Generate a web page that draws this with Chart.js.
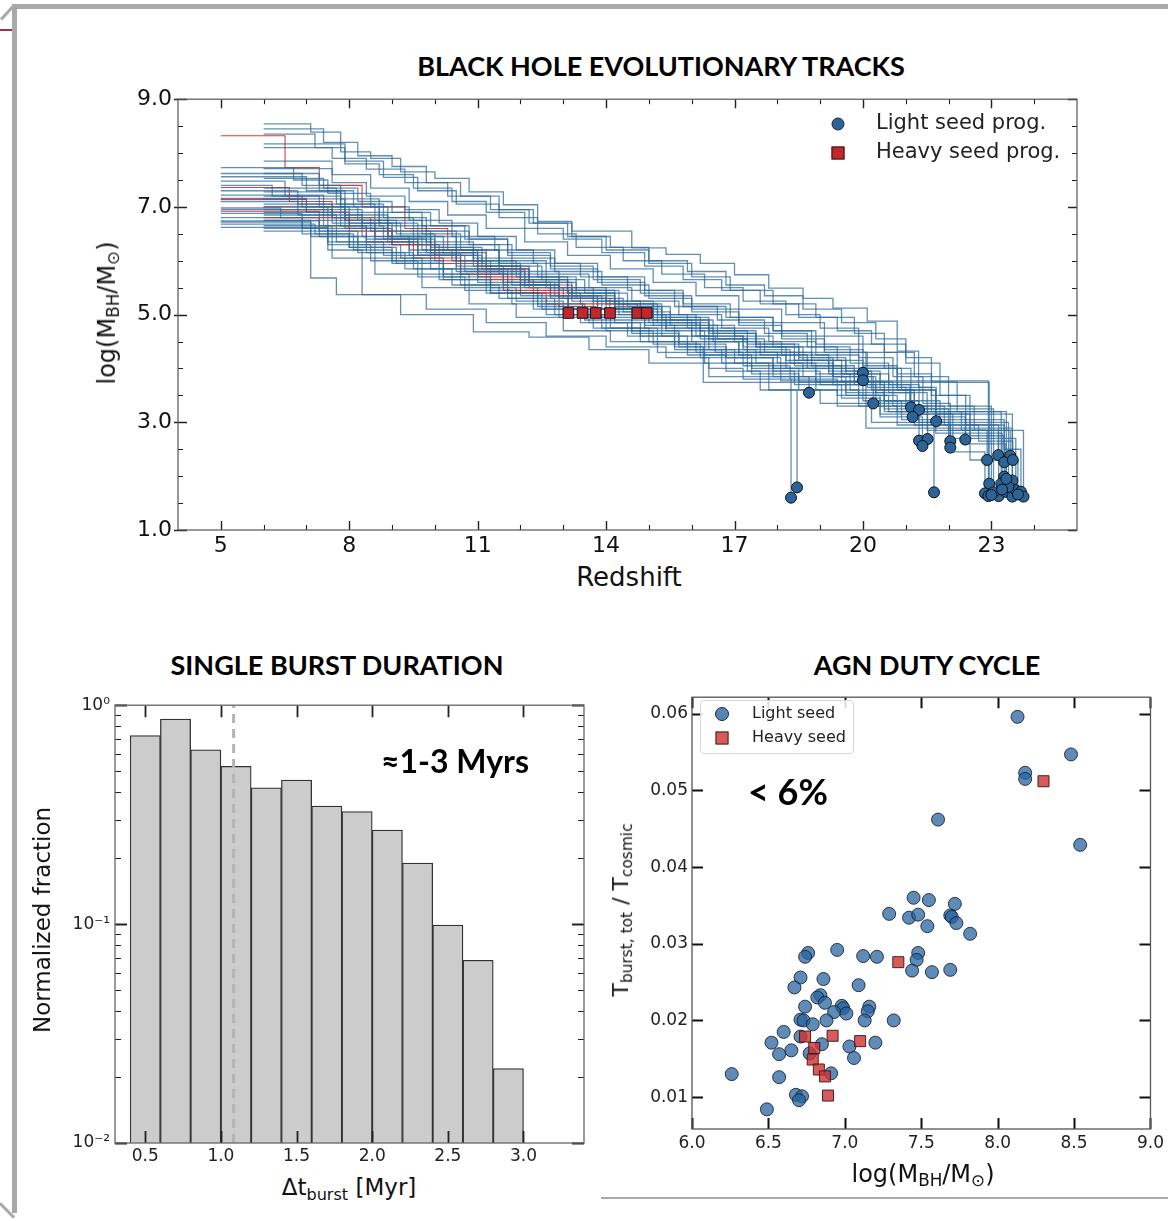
<!DOCTYPE html>
<html>
<head>
<meta charset="utf-8">
<script src="https://cdn.jsdelivr.net/npm/chart.js@4.4.0/dist/chart.umd.min.js"></script>
<style>
  body { margin: 0; width: 1168px; height: 1221px; position: relative; background: #fff; overflow: hidden; font-family: 'DejaVu Sans', sans-serif; }
  .abs { position: absolute; }
  .bar { position: absolute; background: #a9a9a9; }
  .lbl { position: absolute; transform: translate(-50%, -50%); white-space: nowrap; color: #111; }
  .rot { transform: translate(-50%, -50%) rotate(-90deg); }
  .ttl { position: absolute; transform: translate(-50%, -50%); white-space: nowrap; font-family: Lato, sans-serif; font-weight: 700; font-size: 27px; color: #000; }
  sub { font-size: 0.7em; vertical-align: -0.25em; }
  .dot { position: absolute; border-radius: 50%; transform: translate(-50%, -50%); }
  .sq { position: absolute; transform: translate(-50%, -50%); }
</style>
</head>
<body>
<!-- slide frame -->
<div class="bar" style="left:12px; top:4px; width:1156px; height:5px;"></div>
<div class="bar" style="left:12px; top:4px; width:5px; height:1209px;"></div>
<div class="bar" style="left:601px; top:1197px; width:567px; height:2px;"></div>
<div class="abs" style="left:0; top:29px; width:12px; height:2px; background:#9e3347;"></div>
<div class="bar" style="left:-2px; top:11px; width:19px; height:3px; transform:rotate(-48deg);"></div>
<div class="bar" style="left:-3px; top:1209px; width:20px; height:3px; transform:rotate(45deg);"></div>

<div class="ttl" style="left:661px; top:65px;">BLACK HOLE EVOLUTIONARY TRACKS</div>
<div class="ttl" style="left:337px; top:664px;">SINGLE BURST DURATION</div>
<div class="ttl" style="left:927px; top:664px;">AGN DUTY CYCLE</div>

<div class="abs" style="left:100px; top:80px;"><canvas id="tracks" width="1000" height="480"></canvas></div>
<div class="abs" style="left:40px; top:690px;"><canvas id="burst" width="560" height="480"></canvas></div>
<div class="abs" style="left:620px; top:683px;"><canvas id="duty" width="548" height="480"></canvas></div>

<!-- axis titles -->
<div class="lbl rot" style="left:108px; top:313px; font-size:24px;">log(M<sub>BH</sub>/M<sub>⊙</sub>)</div>
<div class="lbl" style="left:629px; top:577px; font-size:26px;">Redshift</div>
<div class="lbl rot" style="left:42px; top:920px; font-size:23px;">Normalized fraction</div>
<div class="lbl" style="left:349px; top:1189px; font-size:23px;">Δt<sub>burst</sub> [Myr]</div>
<div class="lbl rot" style="left:622px; top:910px; font-size:22px;">T<sub>burst, tot</sub> / T<sub>cosmic</sub></div>
<div class="lbl" style="left:923px; top:1175px; font-size:24px;">log(M<sub>BH</sub>/M<sub>⊙</sub>)</div>

<!-- top legend -->
<div class="dot" style="left:838px; top:124px; width:11px; height:11px; background:#2b6499; border:1px solid #1a2a3a;"></div>
<div class="sq" style="left:838px; top:153px; width:11px; height:11px; background:#c0282d; border:1px solid #3a1010;"></div>
<div class="abs" style="left:876px; top:110px; font-size:21px; color:#222;">Light seed prog.</div>
<div class="abs" style="left:876px; top:139px; font-size:21px; color:#222;">Heavy seed prog.</div>

<!-- duty legend -->
<div class="abs" style="left:700px; top:700px; width:152px; height:52px; border:1px solid #d6d6d6; border-radius:4px; background:rgba(255,255,255,0.85);"></div>
<div class="dot" style="left:722px; top:714px; width:12px; height:12px; background:rgba(40,100,160,0.78); border:1px solid #223;"></div>
<div class="sq" style="left:722px; top:738px; width:11px; height:11px; background:rgba(205,50,50,0.8); border:1px solid #422;"></div>
<div class="abs" style="left:752px; top:703px; font-size:16px; color:#222;">Light seed</div>
<div class="abs" style="left:752px; top:727px; font-size:16px; color:#222;">Heavy seed</div>

<div class="ttl" style="left:455px; top:760px; font-size:32px;">≈1-3 Myrs</div>
<div class="ttl" style="left:788px; top:791px; font-size:36px;">&lt; 6%</div>

<script>
// ---- evolutionary tracks: [redshift, logM] steps, low z -> seed ----
const lightTracks = [
  [[5,6.68],[6.3,6.68],[7.2,6.5],[8.1,6.2],[9.0,6.0],[10.2,5.7],[11.3,5.4],[12.5,5.1],[13.6,4.85],[14.8,4.6],[15.9,4.35],[17.0,4.1],[17.9,3.85],[18.74,3.55]],
  [[6,7.71],[6.8,7.71],[7.6,7.45],[8.4,7.2],[9.3,6.95],[10.1,6.7],[11.0,6.45],[11.9,6.2],[12.8,5.95],[13.8,5.7],[14.9,5.45],[15.8,5.2],[16.9,4.95],[17.9,4.7],[18.8,4.4],[19.4,4.15],[20.0,3.92]],
  [[5,7.48],[5.7,7.48],[6.5,7.2],[7.3,7.0],[8.2,6.75],[9.1,6.5],[10.0,6.25],[11.1,5.95],[12.0,5.7],[13.1,5.45],[14.2,5.2],[15.3,4.95],[16.4,4.7],[17.5,4.45],[18.5,4.2],[19.3,4.0],[20.0,3.78]],
  [[6,7.2],[6.9,7.2],[7.8,6.9],[8.7,6.65],[9.8,6.35],[10.9,6.05],[11.8,5.8],[12.9,5.5],[14.0,5.25],[15.1,4.95],[16.2,4.7],[17.3,4.45],[18.4,4.15],[19.3,3.85],[20.24,3.35]],
  [[6,8.17],[7.0,8.17],[7.9,7.85],[8.8,7.55],[9.6,7.3],[10.5,7.05],[11.5,6.8],[12.4,6.5],[13.3,6.25],[14.4,6.0],[15.3,5.75],[16.3,5.5],[17.2,5.25],[18.2,5.0],[19.0,4.75],[19.9,4.45],[20.5,4.0],[21.12,3.28]],
  [[5,7.73],[5.9,7.73],[6.7,7.5],[7.5,7.25],[8.5,7.0],[9.4,6.75],[10.4,6.45],[11.4,6.2],[12.3,5.95],[13.4,5.7],[14.5,5.45],[15.6,5.15],[16.6,4.9],[17.7,4.65],[18.7,4.4],[19.7,4.1],[20.6,3.7],[21.31,3.23]],
  [[5,7.16],[6.1,7.16],[7.0,6.9],[7.9,6.6],[8.9,6.35],[9.9,6.1],[11.0,5.8],[12.1,5.5],[13.2,5.25],[14.3,5.0],[15.4,4.75],[16.5,4.5],[17.6,4.25],[18.7,4.0],[19.8,3.7],[20.5,3.4],[21.16,3.10]],
  [[6,8.54],[6.6,8.54],[7.1,8.39],[7.8,8.02],[8.5,7.9],[9.2,7.65],[10.0,7.53],[10.8,7.28],[11.6,7.04],[12.4,6.73],[13.2,6.55],[14.6,6.24],[15.4,6.12],[16.2,5.95],[17.0,5.74],[17.8,5.49],[18.6,5.30],[19.3,5.12],[20.1,4.88],[20.8,4.32],[21.3,3.65],[21.71,3.02]],
  [[5,6.88],[6.0,6.88],[6.9,6.6],[7.7,6.35],[8.8,6.1],[9.9,5.85],[11.0,5.6],[12.0,5.35],[13.1,5.1],[14.2,4.85],[15.3,4.6],[16.4,4.35],[17.5,4.1],[18.6,3.85],[19.6,3.55],[20.5,3.2],[21.31,2.66]],
  [[6,7.0],[7.1,7.0],[8.0,6.7],[9.0,6.4],[10.0,6.1],[11.1,5.85],[12.2,5.6],[13.3,5.3],[14.4,5.05],[15.5,4.8],[16.6,4.55],[17.7,4.3],[18.8,4.05],[19.8,3.75],[20.7,3.3],[21.51,2.69]],
  [[5,6.74],[6.2,6.74],[7.3,6.45],[8.4,6.15],[9.5,5.85],[10.6,5.55],[11.7,5.3],[12.8,5.0],[13.9,4.75],[15.0,4.5],[16.1,4.3],[17.2,4.05],[18.3,3.8],[19.4,3.5],[20.4,3.1],[21.39,2.56]],
  [[6,7.53],[6.7,7.53],[7.4,7.35],[8.2,7.1],[9.0,6.9],[9.9,6.65],[10.8,6.4],[11.7,6.15],[12.7,5.9],[13.7,5.65],[14.8,5.4],[15.8,5.15],[16.8,4.95],[17.9,4.7],[18.9,4.45],[19.9,4.2],[20.7,3.85],[21.4,3.35],[22.04,2.65]],
  [[5,7.10],[5.8,7.10],[6.8,6.85],[7.7,6.6],[8.6,6.35],[9.6,6.1],[10.7,5.8],[11.8,5.55],[12.9,5.3],[14.0,5.05],[15.1,4.8],[16.2,4.55],[17.3,4.3],[18.4,4.05],[19.5,3.75],[20.5,3.4],[21.3,3.0],[22.04,2.53]],
  [[5,7.56],[6.2,7.56],[7.0,7.3],[7.9,7.05],[8.8,6.8],[9.8,6.55],[10.8,6.3],[11.8,6.05],[12.8,5.8],[13.9,5.55],[15.0,5.3],[16.0,5.05],[17.1,4.8],[18.1,4.55],[19.1,4.3],[20.1,4.0],[20.9,3.6],[21.7,3.1],[22.39,2.68]],
  [[6,8.10],[6.9,8.10],[7.6,7.9],[8.4,7.7],[9.3,7.45],[10.3,7.2],[11.3,6.95],[12.2,6.7],[13.1,6.45],[14.0,6.2],[15.0,5.95],[16.0,5.7],[16.9,5.45],[17.9,5.2],[18.9,4.95],[19.8,4.65],[20.5,4.3],[21.2,3.85],[22.0,3.3],[22.6,2.85],[23.16,2.39]],
  [[6,6.9],[6.9,6.9],[7.8,6.65],[8.8,6.4],[9.8,6.15],[10.9,5.9],[12.0,5.65],[13.1,5.4],[14.2,5.15],[15.3,4.9],[16.4,4.65],[17.5,4.4],[18.6,4.15],[19.6,3.9],[20.6,3.55],[21.5,3.2],[22.3,2.85],[23.44,2.38]],
  [[6,7.35],[6.8,7.35],[7.7,7.05],[8.6,6.8],[9.5,6.55],[10.5,6.3],[11.5,6.0],[12.6,5.75],[13.6,5.5],[14.6,5.25],[15.7,5.0],[16.7,4.75],[17.8,4.5],[18.9,4.25],[19.9,4.0],[20.8,3.6],[21.7,3.15],[22.5,2.75],[23.30,2.26]],
  [[5,6.80],[5.9,6.80],[6.9,6.5],[8.0,6.25],[9.1,5.95],[10.2,5.65],[11.3,5.4],[12.4,5.15],[13.5,4.9],[14.6,4.65],[15.7,4.4],[16.8,4.2],[17.9,3.95],[19.0,3.7],[20.0,3.4],[20.9,3.05],[23.30,1.99]],
  [[6,6.75],[7.2,6.75],[8.3,6.45],[9.4,6.2],[10.5,5.9],[11.6,5.6],[12.7,5.35],[13.8,5.1],[14.9,4.8],[15.6,4.4],[16.27,3.74],[22.95,1.86]],
  [[5,7.30],[6.0,7.30],[6.8,7.05],[7.6,6.8],[8.5,6.55],[9.5,6.3],[10.5,6.0],[11.5,5.75],[12.6,5.5],[13.7,5.25],[14.8,5.0],[15.9,4.75],[17.0,4.5],[18.1,4.25],[19.2,3.95],[20.2,3.6],[21.1,3.2],[23.23,1.86]],
  [[6,6.6],[6.6,6.6],[7.5,6.3],[8.5,6.0],[9.6,5.7],[10.7,5.45],[11.8,5.2],[12.9,4.95],[14.0,4.7],[15.1,4.45],[16.2,4.2],[17.3,3.95],[18.4,3.7],[19.5,3.45],[20.4,3.15],[23.49,1.92]],
  [[5,6.95],[6.4,6.95],[7.4,6.65],[8.4,6.4],[9.4,6.1],[10.5,5.8],[11.6,5.55],[12.7,5.3],[13.8,5.0],[14.9,4.75],[16.0,4.5],[17.1,4.25],[18.2,4.0],[19.3,3.7],[20.3,3.35],[21.2,2.95],[22.0,2.45],[22.85,1.68]],
  [[6,7.05],[7.0,7.05],[7.9,6.75],[8.9,6.45],[9.9,6.2],[11.0,5.9],[12.0,5.65],[13.1,5.4],[14.2,5.1],[15.3,4.85],[16.4,4.55],[17.3,4.2],[18.08,3.77],[22.93,1.63]],
  [[6,6.55],[7.0,6.55],[8.0,6.25],[9.0,5.95],[10.1,5.65],[11.2,5.4],[12.3,5.1],[13.4,4.85],[14.5,4.6],[15.6,4.35],[16.7,4.1],[17.8,3.85],[18.9,3.6],[19.9,3.3],[20.8,2.95],[23.17,1.63]],
  [[5,7.62],[6.1,7.62],[6.9,7.4],[7.8,7.15],[8.7,6.9],[9.7,6.65],[10.7,6.4],[11.7,6.1],[12.7,5.85],[13.8,5.6],[14.9,5.35],[16.0,5.1],[17.1,4.85],[18.1,4.6],[19.1,4.35],[20.0,4.05],[20.8,3.65],[21.6,3.2],[22.4,2.6],[23.34,1.71]],
  [[6,7.15],[6.9,7.15],[7.9,6.85],[8.9,6.55],[9.9,6.25],[10.9,6.0],[11.9,5.7],[12.9,5.45],[14.0,5.2],[15.1,4.9],[16.0,4.6],[16.55,4.3],[20.07,2.89],[23.49,1.62]],
  [[6,6.95],[6.7,6.95],[7.6,6.7],[8.6,6.4],[9.6,6.15],[10.6,5.85],[11.7,5.6],[12.8,5.35],[13.9,5.1],[15.0,4.85],[16.1,4.6],[17.2,4.35],[18.3,4.1],[19.3,3.85],[20.3,3.55],[21.2,3.15],[22.1,2.7],[23.57,1.74]],
  [[6,7.85],[6.8,7.85],[7.6,7.6],[8.5,7.35],[9.4,7.1],[10.3,6.85],[11.2,6.6],[12.1,6.35],[13.1,6.1],[14.1,5.85],[15.1,5.6],[16.1,5.35],[17.1,5.1],[18.1,4.85],[19.1,4.6],[20.0,4.3],[20.8,3.9],[21.6,3.5],[22.4,2.95],[23.3,2.5],[23.69,1.71]],
  [[5,6.62],[6.5,6.62],[7.5,6.35],[8.6,6.05],[9.7,5.75],[10.8,5.5],[11.9,5.25],[13.0,5.0],[14.1,4.75],[15.2,4.5],[16.3,4.25],[17.4,4.0],[18.5,3.75],[19.6,3.5],[20.6,3.2],[21.5,2.85],[23.75,1.62]],
  [[6,6.75],[6.48,6.75],[7.1,5.68],[7.7,5.37],[9.2,5.0],[10.9,4.68],[12.2,4.58],[13.6,4.35],[15.0,4.1],[16.4,3.85],[17.8,3.6],[19.0,3.35],[20.2,3.0],[21.66,1.70]],
  [[5,6.72],[6.0,6.72],[7.1,6.45],[8.2,6.15],[9.3,5.85],[10.4,5.55],[11.5,5.3],[12.6,5.0],[13.7,4.75],[14.8,4.5],[15.9,4.25],[16.8,3.95],[17.6,3.6],[18.46,1.79]],
  [[6,6.85],[6.6,6.85],[7.5,6.2],[8.3,5.37],[9.8,5.1],[11.2,4.85],[12.6,4.6],[14.0,4.4],[15.4,4.2],[16.4,4.0],[17.2,3.8],[18.32,1.60]],
  [[5,7.40],[5.6,7.40],[6.2,7.2],[6.9,7.0],[7.5,6.85],[8.3,6.6],[8.9,6.45],[9.7,6.2],[10.4,6.0],[11.3,5.75],[12.0,5.55],[12.9,5.3],[13.7,5.1],[14.6,4.9],[15.4,4.7],[16.3,4.5],[17.1,4.3],[18.0,4.1],[18.9,3.9],[19.7,3.6],[20.5,3.25],[23.05,1.70]],
  [[6,7.62],[6.6,7.62],[7.3,7.3],[8.1,7.0],[8.9,6.75],[9.7,6.5],[10.6,6.2],[11.5,5.95],[12.4,5.7],[13.3,5.45],[14.3,5.2],[15.2,5.0],[16.1,4.8],[17.0,4.6],[17.9,4.4],[18.8,4.2],[19.6,3.95],[20.4,3.7],[21.1,3.4],[21.8,3.0],[23.40,1.80]],
  [[5,6.98],[5.5,6.98],[6.4,6.8],[7.3,6.55],[8.2,6.3],[9.2,6.05],[10.2,5.75],[11.3,5.5],[12.4,5.2],[13.5,4.95],[14.6,4.7],[15.7,4.45],[16.8,4.2],[17.9,4.0],[18.9,3.75],[19.9,3.5],[20.8,3.2],[21.7,2.8],[22.5,2.3],[23.62,1.66]],
  [[6,8.35],[6.5,8.35],[7.2,8.1],[7.9,7.8],[8.7,7.6],[9.5,7.35],[10.4,7.1],[11.2,6.9],[12.1,6.6],[13.0,6.4],[13.9,6.15],[14.9,5.9],[15.8,5.65],[16.7,5.45],[17.6,5.2],[18.5,4.95],[19.4,4.7],[20.2,4.45],[21.0,4.1],[21.8,3.5],[22.5,2.8],[23.25,1.75]],
  [[6,7.28],[7.0,7.28],[7.8,7.0],[8.7,6.7],[9.6,6.45],[10.5,6.2],[11.5,5.9],[12.5,5.65],[13.5,5.4],[14.5,5.15],[15.5,4.9],[16.5,4.65],[17.5,4.4],[18.5,4.15],[19.5,3.9],[20.4,3.6],[21.2,3.25],[22.0,2.85],[22.90,2.30]],
  [[5,7.22],[6.5,7.22],[7.4,6.95],[8.3,6.7],[9.2,6.45],[10.2,6.15],[11.2,5.9],[12.2,5.6],[13.2,5.35],[14.2,5.1],[15.2,4.85],[16.2,4.6],[17.2,4.4],[18.2,4.15],[19.2,3.9],[20.1,3.65],[21.0,3.3],[21.9,2.95],[22.7,2.65],[23.50,2.30]],
  [[6,6.65],[6.9,6.65],[7.6,6.05],[8.6,5.75],[9.7,5.5],[10.8,5.2],[11.9,4.95],[13.0,4.7],[14.1,4.5],[15.2,4.3],[16.3,4.1],[17.4,3.9],[18.5,3.6],[19.4,3.3],[23.0,1.65]],
  [[6,8.45],[6.7,8.45],[7.4,8.2],[8.2,7.95],[9.0,7.75],[9.8,7.45],[10.6,7.2],[11.5,6.95],[12.3,6.7],[13.2,6.45],[14.1,6.25],[15.0,6.0],[15.9,5.8],[16.8,5.55],[17.7,5.35],[18.6,5.1],[19.5,4.85],[20.3,4.55],[21.0,4.2],[21.6,3.75],[22.2,3.2],[23.35,1.95]]
];
const heavyTracks = [
  [[5,8.32],[5.9,8.32],[6.5,7.73],[7.3,7.4],[8.3,7.0],[9.3,6.6],[10.3,6.2],[11.2,5.85],[12.2,5.5],[13.0,5.3],[14.09,5.03]],
  [[5,7.36],[5.7,7.36],[6.6,7.1],[7.6,6.8],[8.6,6.45],[9.6,6.1],[10.6,5.75],[11.6,5.45],[13.12,5.03]],
  [[5,6.92],[6.3,6.92],[7.3,6.65],[8.4,6.35],[9.5,6.05],[10.6,5.75],[11.7,5.4],[12.6,5.2],[13.45,5.03]],
  [[6,6.8],[7.0,6.8],[8.0,6.55],[9.0,6.3],[10.0,6.0],[11.0,5.7],[12.0,5.4],[12.9,5.15],[13.76,5.03]],
  [[5,7.14],[6.0,7.14],[7.0,6.9],[8.0,6.6],[9.0,6.3],[10.1,5.95],[11.2,5.65],[12.3,5.4],[13.4,5.2],[14.73,5.03]],
  [[6,7.0],[6.9,7.0],[7.9,6.75],[8.9,6.45],[9.9,6.15],[11.0,5.85],[12.1,5.55],[13.2,5.3],[14.2,5.12],[14.95,5.03]]
];
const zTicks = [5, 8, 11, 14, 17, 20, 23];
const zMinor = [6, 7, 9, 10, 12, 13, 15, 16, 18, 19, 21, 22, 24];
const massTicks = [1, 3, 5, 7, 9];
const massTickLabels = ['1.0', '3.0', '5.0', '7.0', '9.0'];
const massMinor = [1.5, 2, 2.5, 3.5, 4, 4.5, 5.5, 6, 6.5, 7.5, 8, 8.5];

// ---- single burst duration histogram ----
const burstBins = [0.5, 0.7, 0.9, 1.1, 1.3, 1.5, 1.7, 1.9, 2.1, 2.3, 2.5, 2.7, 2.9];
const burstFraction = [0.726, 0.865, 0.625, 0.526, 0.419, 0.455, 0.346, 0.327, 0.269, 0.190, 0.099, 0.0684, 0.0219];
const burstMedian = 1.084;
const durTicks = [0.5, 1.0, 1.5, 2.0, 2.5, 3.0];
const durTickLabels = ['0.5', '1.0', '1.5', '2.0', '2.5', '3.0'];
const fracTicks = [0.01, 0.1, 1];
const fracTickLabels = ['10⁻²', '10⁻¹', '10⁰'];
const fracMinor = [0.02, 0.03, 0.04, 0.05, 0.06, 0.07, 0.08, 0.09, 0.2, 0.3, 0.4, 0.5, 0.6, 0.7, 0.8, 0.9];

// ---- duty cycle scatter ----
const lightMass = [8.13, 8.48, 8.18, 8.18, 8.54, 7.61, 7.45, 7.55, 7.72, 7.29, 7.42, 7.48, 7.54, 7.69, 7.70, 7.73, 7.82, 7.48, 7.47, 7.44, 7.57, 7.69,
  6.95, 7.12, 7.21, 6.76, 6.74, 6.71, 6.67, 6.86, 7.09, 6.84, 6.82, 6.87, 6.74, 6.98, 6.99, 6.93, 7.01, 7.16, 7.15, 7.13, 7.32, 6.71, 6.73, 6.79,
  6.88, 6.60, 6.71, 6.52, 6.65, 6.57, 6.77, 6.85, 7.03, 7.06, 7.20, 6.57, 6.91, 6.26, 6.68, 6.72, 6.70, 6.49];
const lightDuty = [0.0596, 0.0547, 0.0523, 0.0515, 0.0429, 0.0462, 0.0360, 0.0357, 0.0352, 0.0339, 0.0334, 0.0338, 0.0323, 0.0337, 0.0335, 0.0327, 0.0313, 0.0288, 0.0279, 0.0265, 0.0263, 0.0266,
  0.0292, 0.0284, 0.0283, 0.0288, 0.0283, 0.0256, 0.0243, 0.0254, 0.0246, 0.0233, 0.0230, 0.0223, 0.0218, 0.0219, 0.0216, 0.0211, 0.0209, 0.0218, 0.0212, 0.0200, 0.0200, 0.0201, 0.0200, 0.0195,
  0.0200, 0.0185, 0.0179, 0.0171, 0.0161, 0.0156, 0.0157, 0.0169, 0.0166, 0.0151, 0.0171, 0.0126, 0.0131, 0.0130, 0.0103, 0.0101, 0.0096, 0.0084];
const heavyMass = [8.30, 7.35, 6.74, 6.92, 7.10, 6.80, 6.79, 6.83, 6.87, 6.89];
const heavyDuty = [0.0512, 0.0276, 0.0179, 0.0180, 0.0173, 0.0164, 0.0149, 0.0136, 0.0127, 0.0102];
const bhTicks = [6.0, 6.5, 7.0, 7.5, 8.0, 8.5, 9.0];
const bhTickLabels = ['6.0', '6.5', '7.0', '7.5', '8.0', '8.5', '9.0'];
const dutyTicks = [0.01, 0.02, 0.03, 0.04, 0.05, 0.06];
const dutyTickLabels = ['0.01', '0.02', '0.03', '0.04', '0.05', '0.06'];

// frame + inward tick marks on all four sides (matplotlib look)
const frameTicks = {
  id: 'frameTicks',
  afterDatasetsDraw(chart, args, o) {
    const { ctx, chartArea: a } = chart;
    const xs = chart.scales.x, ys = chart.scales.y;
    ctx.save();
    ctx.strokeStyle = o.tickColor;
    const vTick = (vals, len) => {
      ctx.beginPath();
      vals.forEach(v => {
        const p = Math.round(xs.getPixelForValue(v)) + 0.5;
        ctx.moveTo(p, a.bottom); ctx.lineTo(p, a.bottom - len);
        ctx.moveTo(p, a.top); ctx.lineTo(p, a.top + len);
      });
      ctx.stroke();
    };
    const hTick = (vals, len, out) => {
      ctx.beginPath();
      vals.forEach(v => {
        const p = Math.round(ys.getPixelForValue(v)) + 0.5;
        ctx.moveTo(a.left - out, p); ctx.lineTo(a.left + len, p);
        ctx.moveTo(a.right, p); ctx.lineTo(a.right - len, p);
      });
      ctx.stroke();
    };
    ctx.lineWidth = o.tickWidth;
    vTick(o.xMajor, o.majorLen);
    hTick(o.yMajor, o.majorLen, o.yOut || 0);
    ctx.lineWidth = o.minorWidth || o.tickWidth;
    vTick(o.xMinor || [], o.minorLen);
    hTick(o.yMinor || [], o.minorLen, 0);
    ctx.strokeStyle = o.frameColor;
    ctx.lineWidth = o.frameWidth;
    ctx.strokeRect(a.left, a.top, a.right - a.left, a.bottom - a.top);
    ctx.restore();
  }
};

const pts = arr => arr.map(([x, y]) => ({ x, y }));
const fixedTicks = vals => scale => { scale.ticks = vals.map(v => ({ value: v })); };
const tickFont = size => ({ family: 'DejaVu Sans', size });

// --- top: evolutionary tracks ---
const trackSets = [];
heavyTracks.forEach(t => trackSets.push({
  data: pts(t), stepped: 'before', borderColor: 'rgba(214,40,40,0.9)', borderWidth: 1.1,
  pointRadius: 0, fill: false, order: 3
}));
lightTracks.forEach(t => trackSets.push({
  data: pts(t), stepped: 'before', borderColor: 'rgba(45,105,155,0.75)', borderWidth: 1.3,
  pointRadius: 0, fill: false, order: 2
}));
trackSets.push({
  data: pts(lightTracks.map(t => t[t.length - 1])), showLine: false, pointStyle: 'circle',
  pointRadius: 5.5, pointBackgroundColor: '#2b6499', pointBorderColor: '#111', pointBorderWidth: 1, order: 1
});
trackSets.push({
  data: pts(heavyTracks.map(t => t[t.length - 1])), showLine: false, pointStyle: 'rect',
  pointRadius: 7.5, pointBackgroundColor: '#c0282d', pointBorderColor: '#111', pointBorderWidth: 1, order: 0
});

new Chart(document.getElementById('tracks'), {
  type: 'line',
  data: { datasets: trackSets },
  options: {
    responsive: false, animation: false, events: [],
    layout: { padding: { left: 0, top: 17, right: 23, bottom: 0 } },
    plugins: {
      legend: { display: false }, tooltip: { enabled: false },
      frameTicks: { tickColor: '#222', tickWidth: 1.4, minorWidth: 1.1, majorLen: 9, minorLen: 5, yOut: 4,
        frameColor: '#555', frameWidth: 1.2, xMajor: zTicks, xMinor: zMinor, yMajor: massTicks, yMinor: massMinor }
    },
    scales: {
      x: {
        type: 'linear', min: 4, max: 25, afterBuildTicks: fixedTicks(zTicks),
        afterFit: s => { s.height = 30; },
        grid: { display: false, drawTicks: false }, border: { display: false },
        ticks: { font: tickFont(22), color: '#111', padding: 3, maxRotation: 0, autoSkip: false }
      },
      y: {
        type: 'linear', min: 1, max: 9, afterBuildTicks: fixedTicks(massTicks),
        afterFit: s => { s.width = 78; },
        grid: { display: false, drawTicks: false }, border: { display: false },
        ticks: { font: tickFont(22), color: '#111', padding: 6, autoSkip: false, callback: (v, i) => massTickLabels[i] }
      }
    }
  },
  plugins: [frameTicks]
});

// --- bottom left: burst duration histogram ---
new Chart(document.getElementById('burst'), {
  type: 'bar',
  data: {
    datasets: [
      {
        type: 'bar', data: burstBins.map((b, i) => ({ x: b, y: burstFraction[i] })),
        backgroundColor: '#cccccc', borderColor: '#333', borderWidth: 1.3,
        barPercentage: 1, categoryPercentage: 1, order: 2
      },
      {
        type: 'line', data: [{ x: burstMedian, y: 0.01 }, { x: burstMedian, y: 1 }],
        borderColor: '#b4b4b4', borderWidth: 3, borderDash: [9, 6], pointRadius: 0, fill: false, order: 1
      }
    ]
  },
  options: {
    responsive: false, animation: false, events: [],
    layout: { padding: { left: 0, top: 10, right: 16, bottom: 0 } },
    plugins: {
      legend: { display: false }, tooltip: { enabled: false },
      frameTicks: { tickColor: '#222', tickWidth: 1.8, minorWidth: 1.2, majorLen: 12, minorLen: 6,
        frameColor: '#666', frameWidth: 1.3, xMajor: durTicks, yMajor: fracTicks, yMinor: fracMinor }
    },
    scales: {
      x: {
        type: 'linear', min: 0.3, max: 3.4, offset: false, afterBuildTicks: fixedTicks(durTicks),
        afterFit: s => { s.height = 27; },
        grid: { display: false, drawTicks: false }, border: { display: false },
        ticks: { font: tickFont(17), color: '#222', padding: 3, maxRotation: 0, autoSkip: false, callback: (v, i) => durTickLabels[i] }
      },
      y: {
        type: 'logarithmic', min: 0.01, max: 1, afterBuildTicks: fixedTicks(fracTicks),
        afterFit: s => { s.width = 75; },
        grid: { display: false, drawTicks: false }, border: { display: false },
        ticks: { font: tickFont(17), color: '#222', padding: 5, autoSkip: false, callback: (v, i) => fracTickLabels[i] }
      }
    }
  },
  plugins: [frameTicks]
});

// --- bottom right: AGN duty cycle ---
new Chart(document.getElementById('duty'), {
  type: 'scatter',
  data: {
    datasets: [
      {
        data: lightMass.map((m, i) => ({ x: m, y: lightDuty[i] })), pointStyle: 'circle', pointRadius: 6.5,
        pointBackgroundColor: 'rgba(40,100,160,0.75)', pointBorderColor: 'rgba(20,30,45,0.85)', pointBorderWidth: 1, order: 2
      },
      {
        data: heavyMass.map((m, i) => ({ x: m, y: heavyDuty[i] })), pointStyle: 'rect', pointRadius: 7.8,
        pointBackgroundColor: 'rgba(205,50,50,0.8)', pointBorderColor: 'rgba(60,20,20,0.9)', pointBorderWidth: 1, order: 1
      }
    ]
  },
  options: {
    responsive: false, animation: false, events: [],
    layout: { padding: { left: 0, top: 10, right: 15, bottom: 0 } },
    plugins: {
      legend: { display: false }, tooltip: { enabled: false },
      frameTicks: { tickColor: '#111', tickWidth: 2, majorLen: 11, minorLen: 0,
        frameColor: '#555', frameWidth: 1.3, xMajor: bhTicks, yMajor: dutyTicks }
    },
    scales: {
      x: {
        type: 'linear', min: 6, max: 9, afterBuildTicks: fixedTicks(bhTicks),
        afterFit: s => { s.height = 34; },
        grid: { display: false, drawTicks: false }, border: { display: false },
        ticks: { font: tickFont(17), color: '#222', padding: 4, maxRotation: 0, autoSkip: false, callback: (v, i) => bhTickLabels[i] }
      },
      y: {
        type: 'linear', min: 0.00584, max: 0.06216, afterBuildTicks: fixedTicks(dutyTicks),
        afterFit: s => { s.width = 72; },
        grid: { display: false, drawTicks: false }, border: { display: false },
        ticks: { font: tickFont(17), color: '#222', padding: 4, autoSkip: false, callback: (v, i) => dutyTickLabels[i] }
      }
    }
  },
  plugins: [frameTicks]
});
</script>
</body>
</html>
